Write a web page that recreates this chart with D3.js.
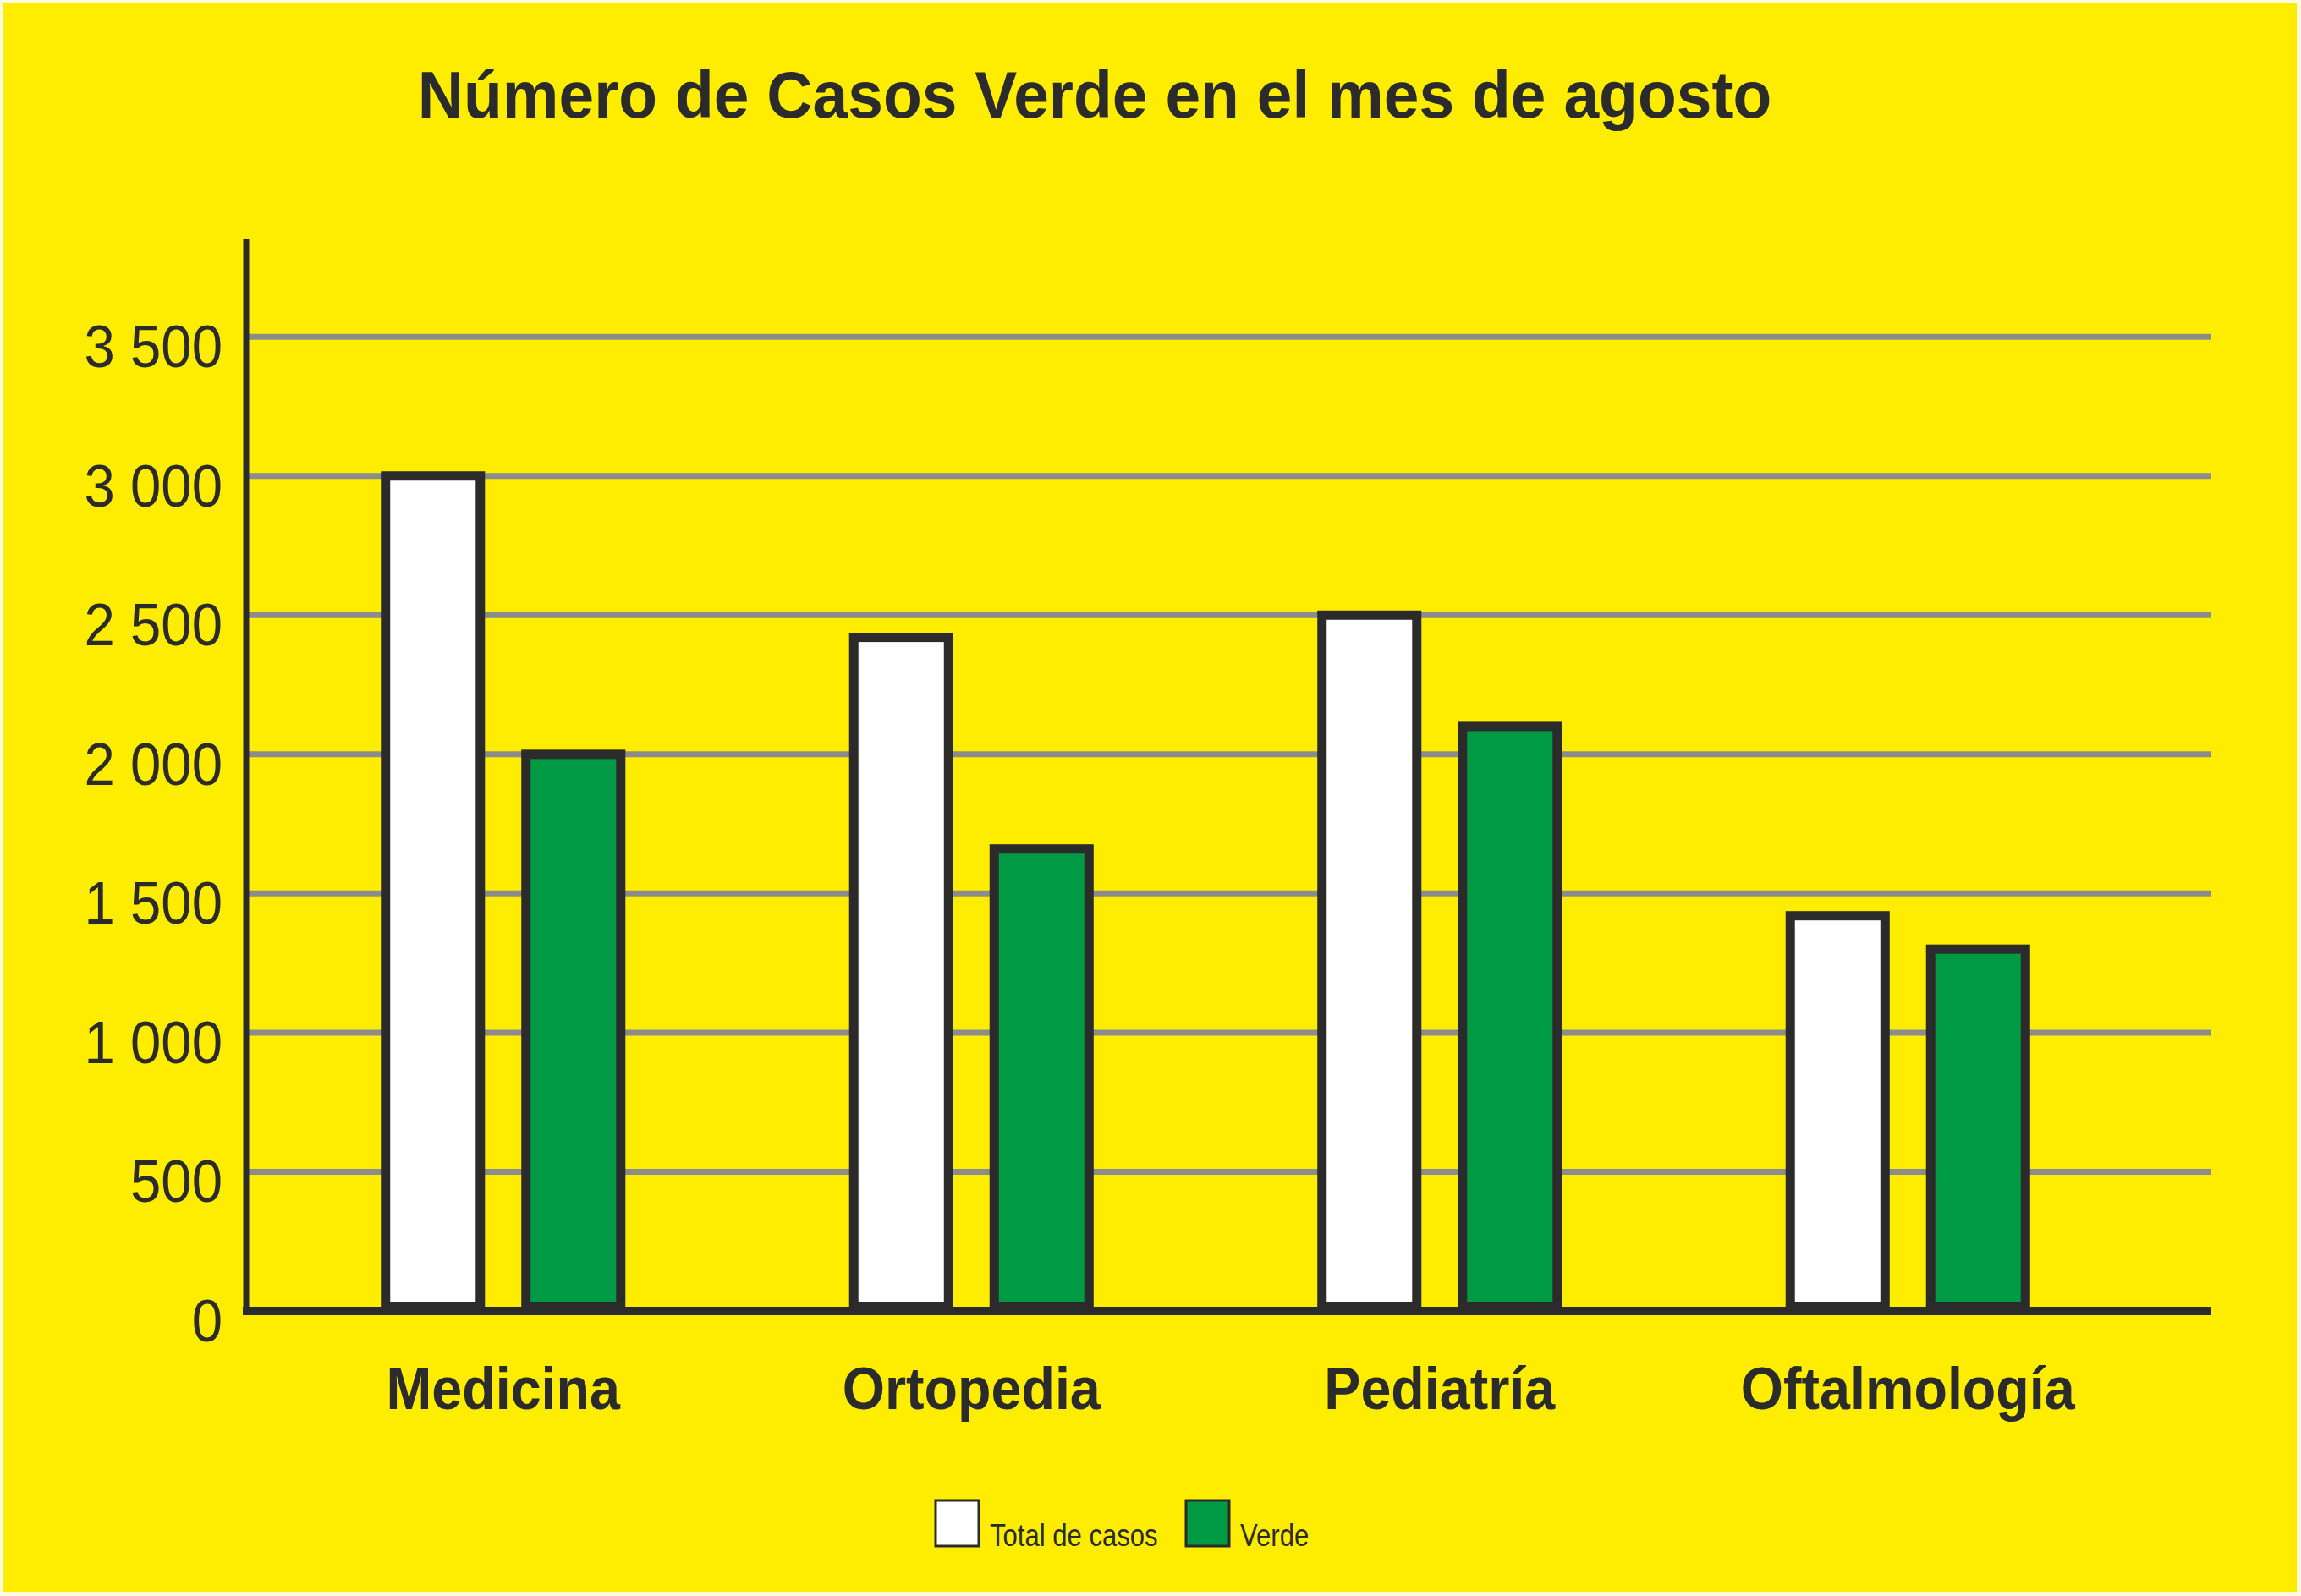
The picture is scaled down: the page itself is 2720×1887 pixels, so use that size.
<!DOCTYPE html>
<html>
<head>
<meta charset="utf-8">
<script src="https://cdn.jsdelivr.net/npm/d3@7"></script>
<style>
  html, body { margin: 0; padding: 0; background: #fffbe0; }
  svg { display: block; }
  text { font-family: "Liberation Sans", Arial, sans-serif; fill: #2b2b2b; }
</style>
</head>
<body>
<svg id="chart" width="2720" height="1887"></svg>
<script>
// values
const categories = ['Medicina', 'Ortopedia', 'Pediatría', 'Oftalmología'];
const series = ['Total de casos', 'Verde'];
const totalCasos = [3000, 2420, 2500, 1420];
const verde = [2000, 1660, 2100, 1300];
const yTicks = [0, 500, 1000, 1500, 2000, 2500, 3000, 3500];
const title = 'Número de Casos Verde en el mes de agosto';

const colors = {
  bg: '#ffed00',
  ink: '#2b2b2b',
  grid: '#8c8c8c',
  total: '#ffffff',
  verde: '#009944'
};

const W = 2720, H = 1887;
const plot = { left: 291, right: 2614, top: 283, bottom: 1550 };

const svg = d3.select('#chart');

// page background with the thin light border
svg.append('rect')
  .attr('x', 3).attr('y', 4)
  .attr('width', W - 8).attr('height', H - 9)
  .attr('fill', colors.bg);

const rows = categories.map((c, i) => ({
  cat: c,
  vals: [
    { s: series[0], v: totalCasos[i] },
    { s: series[1], v: verde[i] }
  ]
}));

const y = d3.scaleLinear()
  .domain([0, 3850])
  .range([plot.bottom, plot.top]);

// outer scale: one band per category
const x0 = d3.scaleBand()
  .domain(categories)
  .range([318, 2532]);

// inner scale: the two bars of a group
const pairW = 332;
const x1 = d3.scaleBand()
  .domain(series)
  .range([0, pairW])
  .paddingInner(0.325)
  .paddingOuter(0.1625);

const groupLeft = (c) => x0(c) + x0.bandwidth() / 2 - pairW / 2;

// title
svg.append('text')
  .attr('transform', `translate(${W / 2 - 66},139) scale(0.974,1)`)
  .attr('text-anchor', 'middle')
  .style('font-size', '77px')
  .style('font-weight', 'bold')
  .text(title);

// gridlines
svg.append('g')
  .selectAll('line')
  .data(yTicks.filter((t) => t > 0))
  .join('line')
  .attr('x1', plot.left)
  .attr('x2', plot.right)
  .attr('y1', (t) => y(t))
  .attr('y2', (t) => y(t))
  .attr('stroke', colors.grid)
  .attr('stroke-width', 7);

// tick labels
svg.append('g')
  .selectAll('text')
  .data(yTicks)
  .join('text')
  .attr('transform', (t) => `translate(263,${y(t) + 36}) scale(0.92,1)`)
  .attr('text-anchor', 'end')
  .style('font-size', '71px')
  .text((t) => d3.format(',')(t).replace(',', ' '));

// bars
const strokeW = 11;
const groups = svg.append('g')
  .selectAll('g')
  .data(rows)
  .join('g')
  .attr('transform', (d) => `translate(${groupLeft(d.cat)},0)`);

groups.selectAll('rect')
  .data((d) => d.vals)
  .join('rect')
  .attr('x', (d) => x1(d.s))
  .attr('width', x1.bandwidth())
  .attr('y', (d) => y(d.v))
  .attr('height', (d) => y(0) - strokeW / 2 - y(d.v))
  .attr('fill', (d) => (d.s === series[0] ? colors.total : colors.verde))
  .attr('stroke', colors.ink)
  .attr('stroke-width', strokeW);

// baseline and vertical axis
svg.append('line')
  .attr('x1', plot.left - 4)
  .attr('x2', plot.right)
  .attr('y1', y(0))
  .attr('y2', y(0))
  .attr('stroke', colors.ink)
  .attr('stroke-width', 10);

svg.append('line')
  .attr('x1', plot.left)
  .attr('x2', plot.left)
  .attr('y1', plot.top)
  .attr('y2', y(0) + 5)
  .attr('stroke', colors.ink)
  .attr('stroke-width', 7);

// category labels
svg.append('g')
  .selectAll('text')
  .data(categories)
  .join('text')
  .attr('transform', (c) => `translate(${x0(c) + x0.bandwidth() / 2},1666) scale(0.91,1)`)
  .attr('text-anchor', 'middle')
  .style('font-size', '71px')
  .style('font-weight', 'bold')
  .text((c) => c);

// legend
const legend = svg.append('g')
  .selectAll('g')
  .data(series)
  .join('g')
  .attr('transform', (s, i) => `translate(${1106 + i * 296},1774)`);

legend.append('rect')
  .attr('width', 51)
  .attr('height', 54)
  .attr('fill', (s, i) => (i === 0 ? colors.total : colors.verde))
  .attr('stroke', colors.ink)
  .attr('stroke-width', 3);

legend.append('text')
  .attr('transform', 'translate(64,54) scale(0.84,1)')
  .style('font-size', '37px')
  .text((s) => s);
</script>
</body>
</html>
